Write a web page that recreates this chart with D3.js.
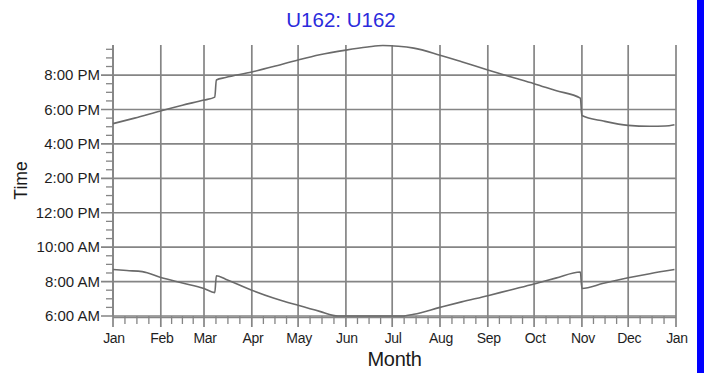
<!DOCTYPE html>
<html>
<head>
<meta charset="utf-8">
<script src="https://cdn.jsdelivr.net/npm/d3@7"></script>
<style>
  body { margin: 0; background: #fff; }
  text { font-family: "Liberation Sans", Arial, sans-serif; }
</style>
</head>
<body>
<svg id="chart" width="704" height="373"></svg>
<script>
// Chart text
const chartTitle = "U162: U162";
const xTitle = "Month";
const yTitle = "Time";

// Month tick labels (Jan of the year through Jan of the next)
const monthLabels = ["Jan","Feb","Mar","Apr","May","Jun","Jul","Aug","Sep","Oct","Nov","Dec","Jan"];

// Time-of-day ticks, in hours
const timeTicks = [6, 8, 10, 12, 14, 16, 18, 20];
const timeTickLabels = ["6:00 AM","8:00 AM","10:00 AM","12:00 PM","2:00 PM","4:00 PM","6:00 PM","8:00 PM"];

// Evening curve: date (month-day) and local clock time in hours
const sunsetDates = ["01-01","01-15","02-01","02-15","03-01","03-08","03-09","03-15","04-01","04-15",
  "05-01","05-15","06-01","06-15","06-25","07-05","07-15","08-01","08-15","09-01","09-15",
  "10-01","10-15","10-31","11-01","11-15","12-01","12-15","12-25","12-31"];
const sunsetHours = [17.18,17.5,17.92,18.25,18.55,18.72,19.72,19.86,20.18,20.5,
  20.88,21.18,21.45,21.63,21.72,21.68,21.57,21.16,20.78,20.3,19.92,
  19.5,19.1,18.66,17.65,17.33,17.08,17.03,17.04,17.12];

// Morning curve: date (month-day) and local clock time in hours
const sunriseDates = ["01-01","01-10","01-20","02-01","02-15","03-01","03-08","03-09","03-15","04-01","04-15",
  "05-01","05-15","05-27","06-06","06-16","06-27","07-07","07-15","08-01","08-15","09-01","09-15",
  "10-01","10-15","10-31","11-01","11-15","12-01","12-15","12-31"];
const sunriseHours = [8.7,8.64,8.58,8.24,7.92,7.6,7.36,8.34,8.14,7.5,7.05,
  6.62,6.27,6.0,5.86,5.82,5.86,6.0,6.1,6.5,6.82,7.18,7.5,
  7.86,8.2,8.56,7.6,7.9,8.22,8.46,8.7];

const year = 2015;
const parseDay = d3.timeParse("%Y-%m-%d");
const toDate = md => parseDay(year + "-" + md);

const width = 704, height = 373;
const margin = { top: 45, right: 28, bottom: 57, left: 113 };
const x0 = margin.left, x1 = width - margin.right;
const y0 = height - margin.bottom, y1 = margin.top;

const svg = d3.select("#chart");
svg.append("rect").attr("width", width).attr("height", height).attr("fill", "#fff");

const x = d3.scaleTime()
  .domain([new Date(year, 0, 1), new Date(year + 1, 0, 1)])
  .range([x0, x1]);
// Times earlier than the axis minimum are drawn along the bottom edge
const y = d3.scaleLinear().domain([6, 21.75]).range([y0, y1]).clamp(true);

const gridColor = "#858585";
const monthStarts = d3.timeMonth.range(new Date(year, 0, 1), new Date(year + 1, 0, 2));

// Minor x ticks: each month split in quarters
const minorX = [];
monthStarts.slice(0, -1).forEach((m, i) => {
  const next = monthStarts[i + 1];
  for (let k = 1; k < 4; k++) minorX.push(new Date(+m + (next - m) * k / 4));
});
svg.append("g").selectAll("line").data(minorX).join("line")
  .attr("x1", d => x(d)).attr("x2", d => x(d))
  .attr("y1", y0).attr("y2", y0 + 8)
  .attr("stroke", gridColor).attr("stroke-width", 1.3);

// Minor y ticks every half hour
const minorY = d3.range(6.5, 21.75, 0.5).filter(h => h % 2 !== 0);
svg.append("g").selectAll("line").data(minorY).join("line")
  .attr("x1", x0 - 7).attr("x2", x0)
  .attr("y1", d => y(d)).attr("y2", d => y(d))
  .attr("stroke", gridColor).attr("stroke-width", 1.3);

// Vertical grid lines at month starts
svg.append("g").selectAll("line").data(monthStarts).join("line")
  .attr("x1", d => x(d)).attr("x2", d => x(d))
  .attr("y1", y1).attr("y2", y0 + 11)
  .attr("stroke", gridColor).attr("stroke-width", 1.7);

// Horizontal grid lines at labelled times
svg.append("g").selectAll("line").data(timeTicks).join("line")
  .attr("x1", x0 - 12).attr("x2", x1)
  .attr("y1", d => y(d)).attr("y2", d => y(d))
  .attr("stroke", gridColor).attr("stroke-width", 1.7);

// Axis lines
svg.append("line").attr("x1", x0).attr("x2", x0).attr("y1", y1).attr("y2", y0)
  .attr("stroke", gridColor).attr("stroke-width", 1.7);
svg.append("line").attr("x1", x0).attr("x2", x1).attr("y1", y0 + 1.5).attr("y2", y0 + 1.5)
  .attr("stroke", gridColor).attr("stroke-width", 1.7);

// Tick labels
svg.append("g").selectAll("text").data(monthStarts).join("text")
  .attr("x", d => x(d) + 1).attr("y", y0 + 27)
  .attr("text-anchor", "middle").attr("font-size", 14).attr("fill", "#1e1e1e")
  .attr("letter-spacing", -0.3)
  .text((d, i) => monthLabels[i]);
svg.append("g").selectAll("text").data(timeTicks).join("text")
  .attr("x", x0 - 13).attr("y", d => y(d) + 5)
  .attr("text-anchor", "end").attr("font-size", 15).attr("fill", "#1e1e1e")
  .text((d, i) => timeTickLabels[i]);

// Data curves
const line = d3.line().x(d => x(d.date)).y(d => y(d.hours)).curve(d3.curveMonotoneX);
const sunset = sunsetDates.map((d, i) => ({ date: toDate(d), hours: sunsetHours[i] }));
const sunrise = sunriseDates.map((d, i) => ({ date: toDate(d), hours: sunriseHours[i] }));
[sunset, sunrise].forEach(series => {
  svg.append("path").datum(series)
    .attr("d", line)
    .attr("fill", "none").attr("stroke", "#6a6a6a").attr("stroke-width", 1.6);
});

// Titles
svg.append("text").attr("x", 341).attr("y", 27)
  .attr("text-anchor", "middle").attr("font-size", 20.5).attr("fill", "#2b2bdc")
  .text(chartTitle);
svg.append("text").attr("x", (x0 + x1) / 2).attr("y", 366)
  .attr("text-anchor", "middle").attr("font-size", 20).attr("fill", "#1a1a1a")
  .attr("letter-spacing", -0.3)
  .text(xTitle);
svg.append("text").attr("transform", `translate(27,${(y0 + y1) / 2}) rotate(-90)`)
  .attr("text-anchor", "middle").attr("font-size", 17.5).attr("fill", "#1a1a1a")
  .text(yTitle);

// Blue strip along the right edge
svg.append("rect").attr("x", 697).attr("y", 0).attr("width", width - 697).attr("height", height)
  .attr("fill", "#0000ff");
</script>
</body>
</html>
